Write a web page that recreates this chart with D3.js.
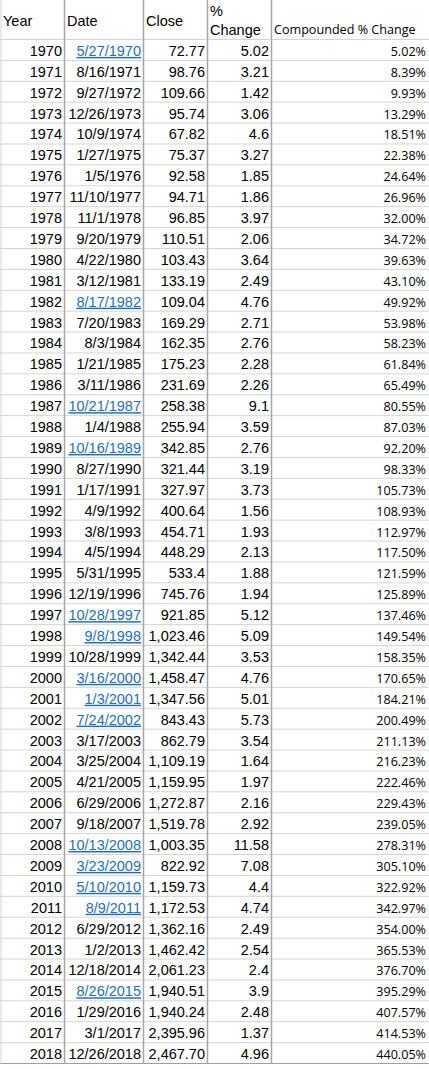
<!DOCTYPE html>
<html><head><meta charset="utf-8">
<script src="https://cdn.jsdelivr.net/npm/d3@7"></script>
<style>body{margin:0;background:#fff}</style></head>
<body><svg id="c" width="429" height="1069"></svg>
<script>
const years=d3.range(1970,2019);
const dates=["5/27/1970","8/16/1971","9/27/1972","12/26/1973","10/9/1974","1/27/1975","1/5/1976","11/10/1977","11/1/1978","9/20/1979","4/22/1980","3/12/1981","8/17/1982","7/20/1983","8/3/1984","1/21/1985","3/11/1986","10/21/1987","1/4/1988","10/16/1989","8/27/1990","1/17/1991","4/9/1992","3/8/1993","4/5/1994","5/31/1995","12/19/1996","10/28/1997","9/8/1998","10/28/1999","3/16/2000","1/3/2001","7/24/2002","3/17/2003","3/25/2004","4/21/2005","6/29/2006","9/18/2007","10/13/2008","3/23/2009","5/10/2010","8/9/2011","6/29/2012","1/2/2013","12/18/2014","8/26/2015","1/29/2016","3/1/2017","12/26/2018"];
const closes=["72.77","98.76","109.66","95.74","67.82","75.37","92.58","94.71","96.85","110.51","103.43","133.19","109.04","169.29","162.35","175.23","231.69","258.38","255.94","342.85","321.44","327.97","400.64","454.71","448.29","533.4","745.76","921.85","1,023.46","1,342.44","1,458.47","1,347.56","843.43","862.79","1,109.19","1,159.95","1,272.87","1,519.78","1,003.35","822.92","1,159.73","1,172.53","1,362.16","1,462.42","2,061.23","1,940.51","1,940.24","2,395.96","2,467.70"];
const pctChange=["5.02","3.21","1.42","3.06","4.6","3.27","1.85","1.86","3.97","2.06","3.64","2.49","4.76","2.71","2.76","2.28","2.26","9.1","3.59","2.76","3.19","3.73","1.56","1.93","2.13","1.88","1.94","5.12","5.09","3.53","4.76","5.01","5.73","3.54","1.64","1.97","2.16","2.92","11.58","7.08","4.4","4.74","2.49","2.54","2.4","3.9","2.48","1.37","4.96"];
const compounded=["5.02%","8.39%","9.93%","13.29%","18.51%","22.38%","24.64%","26.96%","32.00%","34.72%","39.63%","43.10%","49.92%","53.98%","58.23%","61.84%","65.49%","80.55%","87.03%","92.20%","98.33%","105.73%","108.93%","112.97%","117.50%","121.59%","125.89%","137.46%","149.54%","158.35%","170.65%","184.21%","200.49%","211.13%","216.23%","222.46%","229.43%","239.05%","278.31%","305.10%","322.92%","342.97%","354.00%","365.53%","376.70%","395.29%","407.57%","414.53%","440.05%"];
const linkYears=[1970,1982,1987,1989,1997,1998,2000,2001,2002,2008,2009,2010,2011,2015];

const svg=d3.select("#c");
const colEdges=[0,64,143,207,271,429];
const y=d3.scaleBand().domain(years).range([39,1063]);
const font="'Liberation Sans',Arial,sans-serif";
const fs=14.5, fs2=12.6;
svg.selectAll("line.h").data([39,...years.map(v=>y(v)+y.bandwidth())]).join("line")
 .attr("x1",0).attr("x2",429).attr("y1",d=>d+0.5).attr("y2",d=>d+0.5)
 .attr("stroke","#d4d4d4").attr("stroke-width",1);
svg.append("line").attr("x1",0).attr("x2",429).attr("y1",1063.5).attr("y2",1063.5).attr("stroke","#9e9e9e");
svg.selectAll("line.v").data(colEdges.slice(1,5)).join("line")
 .attr("x1",d=>d+0.5).attr("x2",d=>d+0.5).attr("y1",0).attr("y2",1064)
 .attr("stroke","#a6a6a6").attr("stroke-width",1.5);
svg.append("line").attr("x1",1).attr("x2",1).attr("y1",0).attr("y2",1064).attr("stroke","#d4d4d4");
const hdr=svg.append("g").attr("font-family",font).attr("font-size",fs).attr("fill","#000");
hdr.append("text").attr("x",3).attr("y",26).text("Year");
hdr.append("text").attr("x",67).attr("y",26).text("Date");
hdr.append("text").attr("x",146).attr("y",26).text("Close");
hdr.append("text").attr("x",210).attr("y",16).text("%");
hdr.append("text").attr("x",210).attr("y",35).text("Change");
hdr.append("text").attr("x",274).attr("y",34).attr("font-size",fs2).attr("font-family","'Open Sans',sans-serif").text("Compounded % Change");
const rows=svg.selectAll("g.r").data(years.map((yr,i)=>({yr,i}))).join("g")
 .attr("transform",d=>`translate(0,${y(d.yr)+y.bandwidth()-4})`)
 .attr("font-family",font).attr("font-size",fs);
rows.append("text").attr("x",62).attr("text-anchor","end").text(d=>d.yr);
rows.append("text").attr("x",141).attr("text-anchor","end")
 .attr("fill",d=>linkYears.includes(d.yr)?"#1f6fb5":"#000")
 .attr("text-decoration",d=>linkYears.includes(d.yr)?"underline":null)
 .text(d=>dates[d.i]);
rows.append("text").attr("x",205).attr("text-anchor","end").text(d=>closes[d.i]);
rows.append("text").attr("x",269).attr("text-anchor","end").text(d=>pctChange[d.i]);
rows.append("text").attr("x",426).attr("text-anchor","end").attr("font-size",fs2)
 .attr("font-family","'Open Sans',sans-serif").text(d=>compounded[d.i]);
</script></body></html>
